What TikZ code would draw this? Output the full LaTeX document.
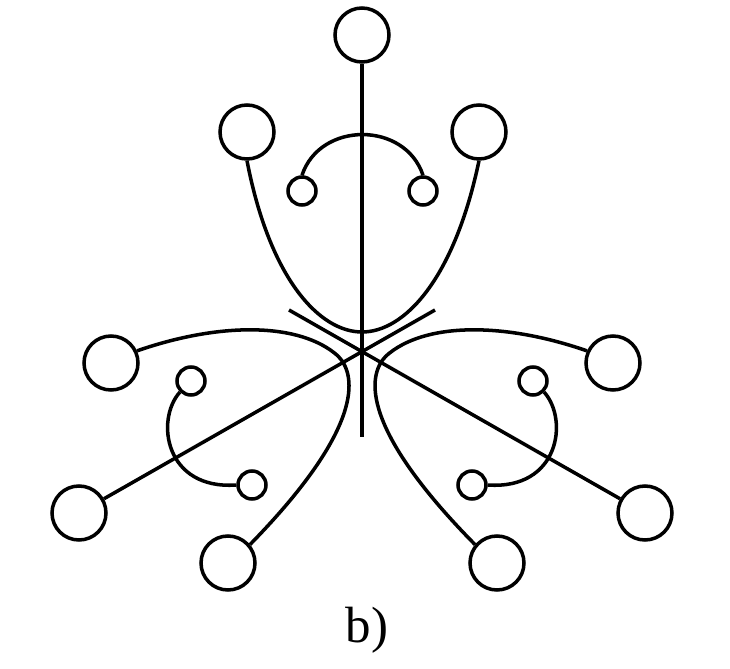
\documentclass[tikz,border=0pt]{standalone}
\usepackage{fontspec}
\setmainfont{Liberation Serif}
\begin{document}
\begin{tikzpicture}[x=0.02cm,y=-0.02cm, line width=2pt,
  big/.style={circle,draw,minimum size=1.08cm,inner sep=0pt},
  small/.style={circle,draw,minimum size=0.56cm,inner sep=0pt}]
\useasboundingbox (0,0) rectangle (730,669);
\node[big] (top) at (362,35) {};
\node[big] (ul) at (247,132) {};
\node[big] (ur) at (479,132) {};
\node[big] (ml) at (111,363) {};
\node[big] (mr) at (613,363) {};
\node[big] (ll) at (79,513) {};
\node[big] (lr) at (645,513) {};
\node[big] (bl) at (228,563) {};
\node[big] (br) at (497,563) {};
\node[small] (tsl) at (302,191) {};
\node[small] (tsr) at (423,191) {};
\node[small] (lsa) at (191,381) {};
\node[small] (lsb) at (252,485) {};
\node[small] (rsa) at (533,381) {};
\node[small] (rsb) at (472,485) {};
\coordinate (vend) at (362,437);
\coordinate (tipR) at (435,310);
\coordinate (tipL) at (289,310);
\node[font=\fontsize{29}{31}\selectfont, inner sep=0pt] (lab) at (367,630) {b)};

\draw (top) -- (vend);
\draw (ll) -- (tipR);
\draw (lr) -- (tipL);
\draw (ul.south) .. controls (270,280) and (320,332) .. (362,332)
  .. controls (404,332) and (454,280) .. (ur.south);
\draw (tsl.north) .. controls (320,121) and (405,121) .. (tsr.north);
\draw (ml.25) .. controls (220,322) and (300,322) .. (338,356)
  .. controls (358,376) and (362,430) .. (bl.40);
\draw (mr.155) .. controls (504,322) and (424,322) .. (386,356)
  .. controls (366,376) and (362,430) .. (br.140);
\draw (lsa.225) .. controls (155,420) and (165,490) .. (lsb.west);
\draw (rsa.315) .. controls (569,420) and (559,490) .. (rsb.east);
\end{tikzpicture}
\end{document}
